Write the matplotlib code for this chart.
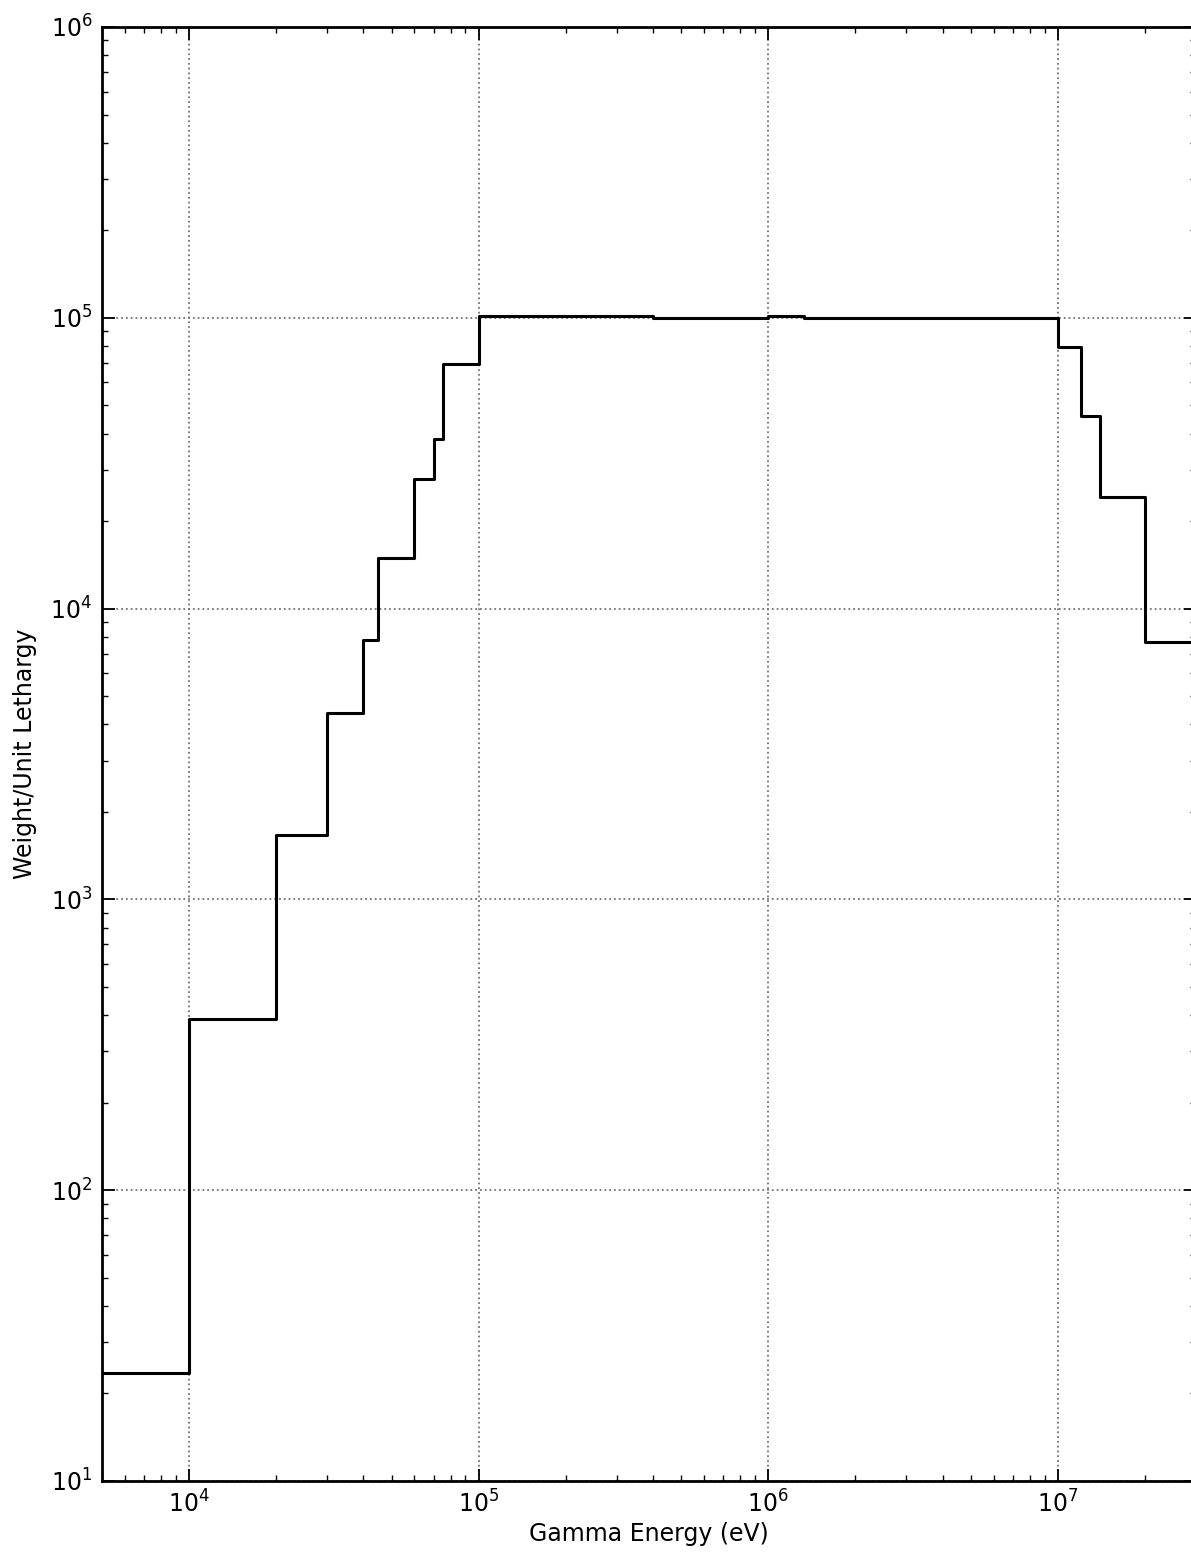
import matplotlib
matplotlib.use("Agg")
import matplotlib.pyplot as plt
import numpy as np

# Group boundaries (eV) and weight per unit lethargy for each group
energy_edges = [5e3, 1e4, 2e4, 3e4, 4e4, 4.5e4, 6e4, 7e4, 7.5e4, 1e5,
                4e5, 1e6, 1.33e6, 1e7, 1.2e7, 1.4e7, 2e7, 3e7]
weights = [23.5, 388, 1665, 4375, 7800, 14970, 27900, 38200, 69400,
           101200, 100000, 101200, 100000, 79600, 46100, 24250, 7700]

xlabel = "Gamma Energy (eV)"
ylabel = "Weight/Unit Lethargy"

plt.rcParams['font.family'] = ['DejaVu Sans']
plt.rcParams['font.size'] = 17

fig = plt.figure(figsize=(11.91, 15.58), dpi=100)
ax = fig.add_axes([102/1191, 77/1558, (1196-102)/1191, 1454/1558])

ax.step(energy_edges, weights + [weights[-1]], where='post', color='k', linewidth=2.2)

ax.set_xscale('log')
ax.set_yscale('log')
ax.set_xlim(5e3, 3e7)
ax.set_ylim(10, 1e6)

ax.grid(True, which='major', linestyle=':', color='0.45', linewidth=1.3)
ax.tick_params(which='both', direction='in', top=True, right=True, color='k')
ax.tick_params(which='major', length=9, width=1.3, labelsize=17, pad=7)
ax.tick_params(which='minor', length=4.5, width=1.0)
for s in ax.spines.values():
    s.set_linewidth(2.0)

ax.set_xlabel(xlabel, fontsize=17, labelpad=3)
ax.set_ylabel(ylabel, fontsize=17, labelpad=10)

fig.savefig("out.png", dpi=100)
